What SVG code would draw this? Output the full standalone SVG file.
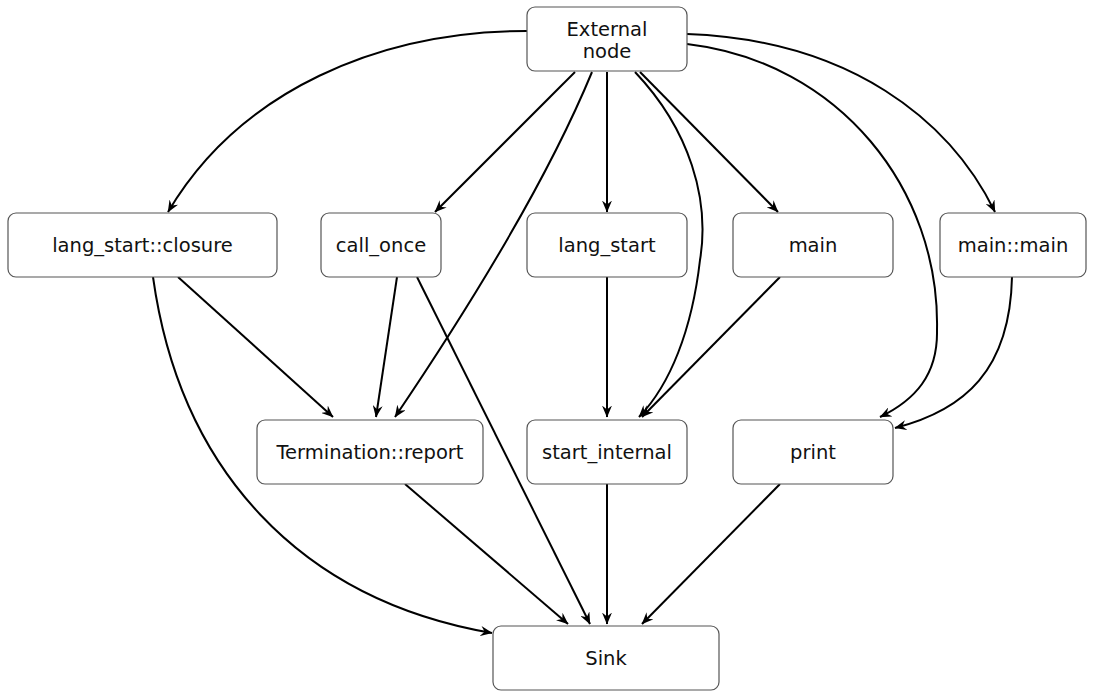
<svg xmlns="http://www.w3.org/2000/svg" width="1094" height="691" viewBox="0 0 1094 691">
  <style>
    .node rect { fill: #ffffff; stroke: #555555; stroke-width: 1.2; }
    .node text { font-family: "DejaVu Sans", Verdana, sans-serif; font-size: 19.5px; fill: #111111; text-anchor: middle; }
    .edges path { fill: none; stroke: #000000; stroke-width: 2; marker-end: url(#arrow); }
  </style>
  <defs>
    <marker id="arrow" viewBox="0 0 12 10" markerWidth="12" markerHeight="10" refX="11.5" refY="5" orient="auto" markerUnits="userSpaceOnUse">
      <path d="M0,0 L12,5 L0,10 L4,5 z" fill="#000000"/>
    </marker>
  </defs>
  <rect width="1094" height="691" fill="#ffffff"/>

  <g class="edges">
    <!-- from External node -->
    <path d="M527,31 C380,31 240,90 168,212"/>
    <path d="M575,72 L435,212"/>
    <path d="M592,72 Q535,210 395,417"/>
    <path d="M607,72 L607,212"/>
    <path d="M635,72 C690,130 710,200 700,260 C692,330 670,385 639,417"/>
    <path d="M640,72 L778,212"/>
    <path d="M687,44 C840,62 940,190 937,330 C938,375 915,400 880,417"/>
    <path d="M687,34 C850,40 950,120 995,212"/>
    <!-- second row -->
    <path d="M178,277 L333,417"/>
    <path d="M153,277 C180,470 300,600 492,633"/>
    <path d="M397,277 L376,417"/>
    <path d="M417,277 L590,624"/>
    <path d="M607,277 L607,417"/>
    <path d="M780,277 L642,417"/>
    <path d="M1012,277 C1010,370 965,410 895,428"/>
    <!-- third row -->
    <path d="M405,484 L568,624"/>
    <path d="M607,484 L607,624"/>
    <path d="M780,484 L642,624"/>
  </g>

  <g id="external-node" class="node">
    <rect x="527" y="7" width="160" height="64" rx="8"/>
    <text x="607" y="36">External</text>
    <text x="607" y="58">node</text>
  </g>
  <g id="lang-start-closure" class="node">
    <rect x="8" y="213" width="269" height="64" rx="8"/>
    <text x="142.5" y="252">lang_start::closure</text>
  </g>
  <g id="call-once" class="node">
    <rect x="321" y="213" width="120" height="64" rx="8"/>
    <text x="381" y="252">call_once</text>
  </g>
  <g id="lang-start" class="node">
    <rect x="527" y="213" width="160" height="64" rx="8"/>
    <text x="607" y="252">lang_start</text>
  </g>
  <g id="main" class="node">
    <rect x="733" y="213" width="160" height="64" rx="8"/>
    <text x="813" y="252">main</text>
  </g>
  <g id="main-main" class="node">
    <rect x="940" y="213" width="146" height="64" rx="8"/>
    <text x="1013" y="252">main::main</text>
  </g>
  <g id="termination-report" class="node">
    <rect x="257" y="420" width="226" height="64" rx="8"/>
    <text x="370" y="459">Termination::report</text>
  </g>
  <g id="start-internal" class="node">
    <rect x="527" y="420" width="160" height="64" rx="8"/>
    <text x="607" y="459">start_internal</text>
  </g>
  <g id="print" class="node">
    <rect x="733" y="420" width="160" height="64" rx="8"/>
    <text x="813" y="459">print</text>
  </g>
  <g id="sink" class="node">
    <rect x="493" y="626" width="226" height="64" rx="8"/>
    <text x="606" y="665">Sink</text>
  </g>
</svg>
